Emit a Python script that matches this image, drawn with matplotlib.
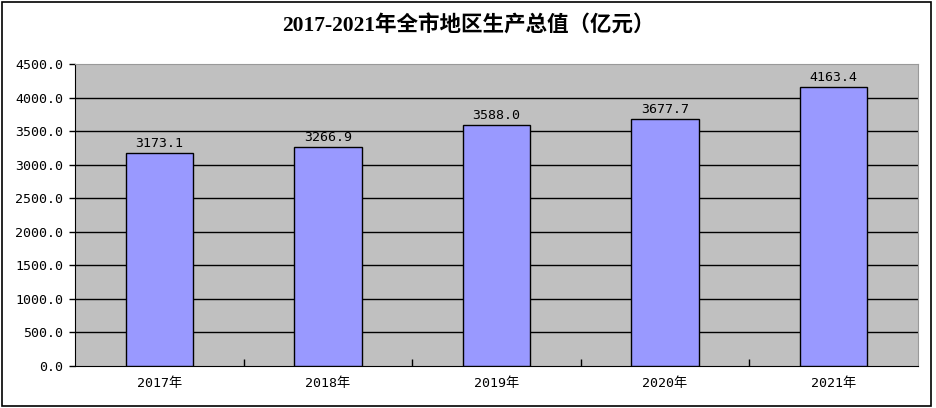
import matplotlib.pyplot as plt
from matplotlib.patches import Rectangle

# === Data ===
years = ["2017年", "2018年", "2019年", "2020年", "2021年"]
gdp = [3173.1, 3266.9, 3588.0, 3677.7, 4163.4]
y_ticks = [0, 500, 1000, 1500, 2000, 2500, 3000, 3500, 4000, 4500]
title = "2017-2021年全市地区生产总值（亿元）"

small_font = ['DejaVu Sans Mono', 'Noto Sans CJK SC']
plt.rcParams['font.family'] = small_font

fig = plt.figure(figsize=(9.36, 4.08), dpi=100)
ax = fig.add_axes([75 / 936, 1 - 366 / 408, (918 - 75) / 936, (366 - 64) / 408])

# outer frame
fig.patches.append(Rectangle((2 / 936, 2 / 408), 929 / 936, 404 / 408,
                             transform=fig.transFigure, fill=False,
                             edgecolor='black', linewidth=1.2))

ax.set_facecolor('#C0C0C0')
x = range(len(years))
ax.bar(x, gdp, width=0.40, color='#9999FF', edgecolor='black', linewidth=1.0, zorder=3)

for xi, v in zip(x, gdp):
    ax.text(xi, v + 45, f"{v:.1f}", ha='center', va='bottom', fontsize=9.5, zorder=4)

ax.set_xlim(-0.5, len(years) - 0.5)
ax.set_ylim(0, 4500)
ax.set_yticks(y_ticks)
ax.set_yticklabels([f"{t:.1f}" for t in y_ticks], fontsize=9.5)
ax.set_xticks(list(x))
ax.set_xticklabels(years, fontsize=9.5)
ax.tick_params(axis='x', length=0, pad=8)
ax.tick_params(axis='y', length=4, width=1, direction='out', pad=4.5)

# category boundary ticks pointing inward
ax.set_xticks([i + 0.5 for i in range(len(years) - 1)], minor=True)
ax.tick_params(axis='x', which='minor', length=5, width=1, direction='in')

for t in y_ticks[1:-1]:
    ax.axhline(t, color='black', linewidth=1.0, zorder=2)

ax.spines['left'].set_color('black')
ax.spines['bottom'].set_color('black')
ax.spines['top'].set_color('#999999')
ax.spines['right'].set_color('#999999')

fig.text(0.5, 1 - 26 / 408, title, ha='center', va='center', fontsize=15.5,
         fontweight='bold', family=['Liberation Serif', 'Noto Sans CJK SC'])

fig.savefig('out.png', dpi=100)
